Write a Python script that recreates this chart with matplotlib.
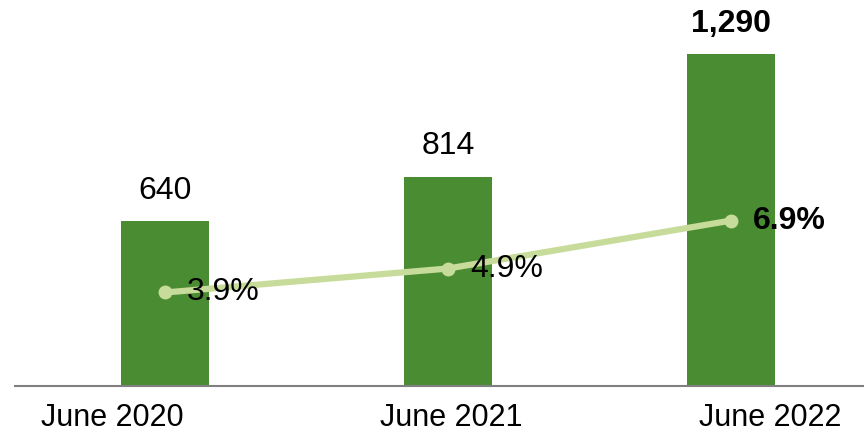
import matplotlib
matplotlib.use("Agg")
import matplotlib.pyplot as plt
import numpy as np

plt.rcParams['font.family'] = ['Liberation Sans', 'DejaVu Sans']

# data
periods = ["June 2020", "June 2021", "June 2022"]
volumes = [640, 814, 1290]
volume_labels = ["640", "814", "1,290"]
shares = [3.9, 4.9, 6.9]
share_labels = ["3.9%", "4.9%", "6.9%"]
bold_last = True

BAR_GREEN = "#4a8c32"
LINE_GREEN = "#c7dc9a"

fig = plt.figure(figsize=(8.64, 4.34), dpi=100)
ax = fig.add_axes([0.0174, 0.1106, 0.9826, 0.8894])
x = np.arange(len(periods))

ax.bar(x, volumes, width=0.311, color=BAR_GREEN, zorder=2)
ax.set_xlim(-0.53, 2.47)
ax.set_ylim(0, 1500)

for i, (v, lab) in enumerate(zip(volumes, volume_labels)):
    weight = "bold" if (bold_last and i == len(volumes) - 1) else "normal"
    ax.annotate(lab, (x[i], v), xytext=(0, 11), textcoords="offset points",
                ha="center", va="bottom", fontsize=23, fontweight=weight)

# share of total on a second scale
ax2 = ax.twinx()
ax2.set_ylim(0, 16.1)
ax2.plot(x, shares, color=LINE_GREEN, lw=4.5, marker="o", ms=9,
         solid_capstyle="round", zorder=3)
for i, (s, lab) in enumerate(zip(shares, share_labels)):
    weight = "bold" if (bold_last and i == len(shares) - 1) else "normal"
    ax2.annotate(lab, (x[i], s), xytext=(16, 0), textcoords="offset points",
                 ha="left", va="center", fontsize=23, fontweight=weight)

# tick labels sit a little off the bar centres
tick_shift = [-0.187, 0.01, 0.14]
ax.set_xticks(x + np.array(tick_shift))
ax.set_xticklabels(periods, fontsize=22)
ax.tick_params(axis="x", length=0, pad=12)
ax.set_yticks([])
ax2.set_yticks([])

for a in (ax, ax2):
    for side in ("top", "left", "right", "bottom"):
        a.spines[side].set_visible(False)
ax.spines["bottom"].set_visible(True)
ax.spines["bottom"].set_color("#808080")
ax.spines["bottom"].set_linewidth(1.5)

fig.savefig("out.png", dpi=100)
